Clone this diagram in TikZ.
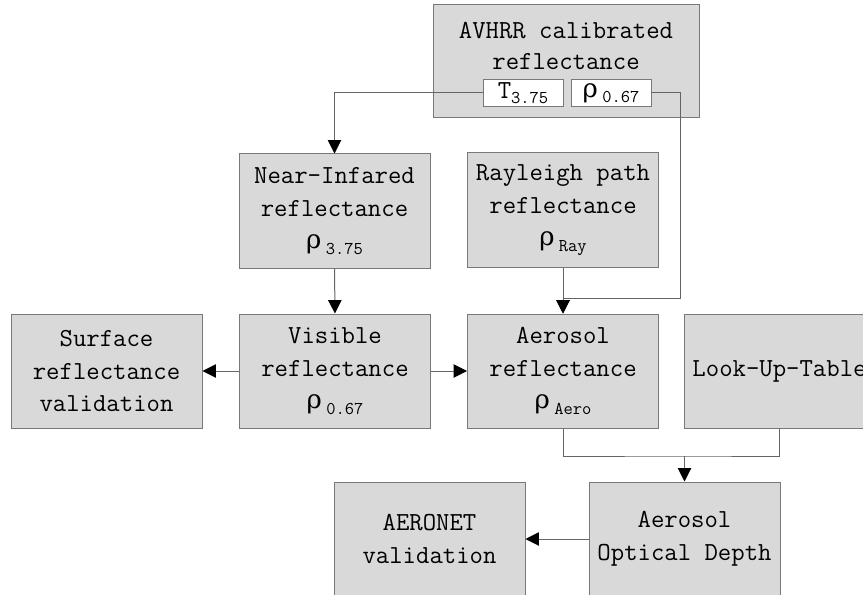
\documentclass[tikz,border=0pt]{standalone}
\usepackage{fontspec}
\newfontfamily\gkfont{DejaVu Serif}
\usetikzlibrary{shapes,arrows.meta}
\definecolor{boxfill}{RGB}{217,217,217}
\definecolor{boxline}{RGB}{120,120,120}
\definecolor{lncolor}{RGB}{100,100,100}
\newcommand{\lowtxt}[1]{\raisebox{-0.5ex}{\fontsize{13.5}{13.5}\selectfont #1}}
\newcommand{\rhosub}[1]{{\gkfont ρ}\,\lowtxt{#1}}

\tikzset{
  box/.style={shape=rectangle,draw=boxline,fill=boxfill,align=center,line width=0.75pt,
    minimum width=143.25pt,minimum height=85.5pt,inner sep=0pt,
    font=\ttfamily\fontsize{19.5}{24.5}\selectfont},
  tagbox/.style={shape=rectangle,draw=boxline,fill=white,align=center,line width=0.75pt,
    minimum width=60pt,minimum height=20pt,inner sep=0pt,
    font=\ttfamily\fontsize{19.5}{24.5}\selectfont},
  txt/.style={align=center,inner sep=0pt,font=\ttfamily\fontsize{19.5}{23.5}\selectfont},
  link/.style={-,draw=lncolor,line width=0.75pt},
  arr/.style={-{Triangle[length=10pt,width=10pt,color=black]},draw=lncolor,line width=0.75pt}
}

\begin{document}
\begin{tikzpicture}[x=0.75pt,y=-0.75pt]
\useasboundingbox (0,0) rectangle (863,595);
\clip (0,0) rectangle (863,595);
\node[box,minimum width=199.5pt,minimum height=84.75pt] (0) at (566,61.5) {};
\node[txt] (t0) at (566,46) {AVHRR calibrated\\reflectance};
\node[tagbox] (1) at (523,93) {T\lowtxt{3.75}};
\node[tagbox] (2) at (611,93) {\rhosub{0.67}};
\node[box] (3) at (334.5,211) {Near-Infared\\reflectance\\\rhosub{3.75}};
\node[box] (4) at (563,210) {Rayleigh path\\reflectance\\\rhosub{Ray}};
\node[box] (5) at (335,371) {Visible\\reflectance\\\rhosub{0.67}};
\node[box] (6) at (563,371) {Aerosol\\reflectance\\\rhosub{Aero}};
\node[box] (7) at (106.5,371) {Surface\\reflectance\\validation};
\node[box] (8) at (779.5,371) {Look-Up-Table};
\node[box] (9) at (684.5,539) {Aerosol\\Optical Depth};
\node[box] (10) at (429.5,539) {AERONET\\validation};

\coordinate (c1) at (680,298);
\coordinate (c2) at (684.5,456);

\draw[arr] (1.west) -| (3.north);
\draw[arr] (2.east) -| (c1) -| (6.north);
\draw[arr] (4.south) -- (6.north);
\draw[arr] (3.south) -- (5.north);
\draw[arr] (5.west) -- (7.east);
\draw[arr] (5.east) -- (6.west);
\draw[link] (6.south) |- (c2) -| (8.south);
\draw[arr] (c2) -- (9.north);
\draw[arr] (9.west) -- (10.east);
\end{tikzpicture}
\end{document}
